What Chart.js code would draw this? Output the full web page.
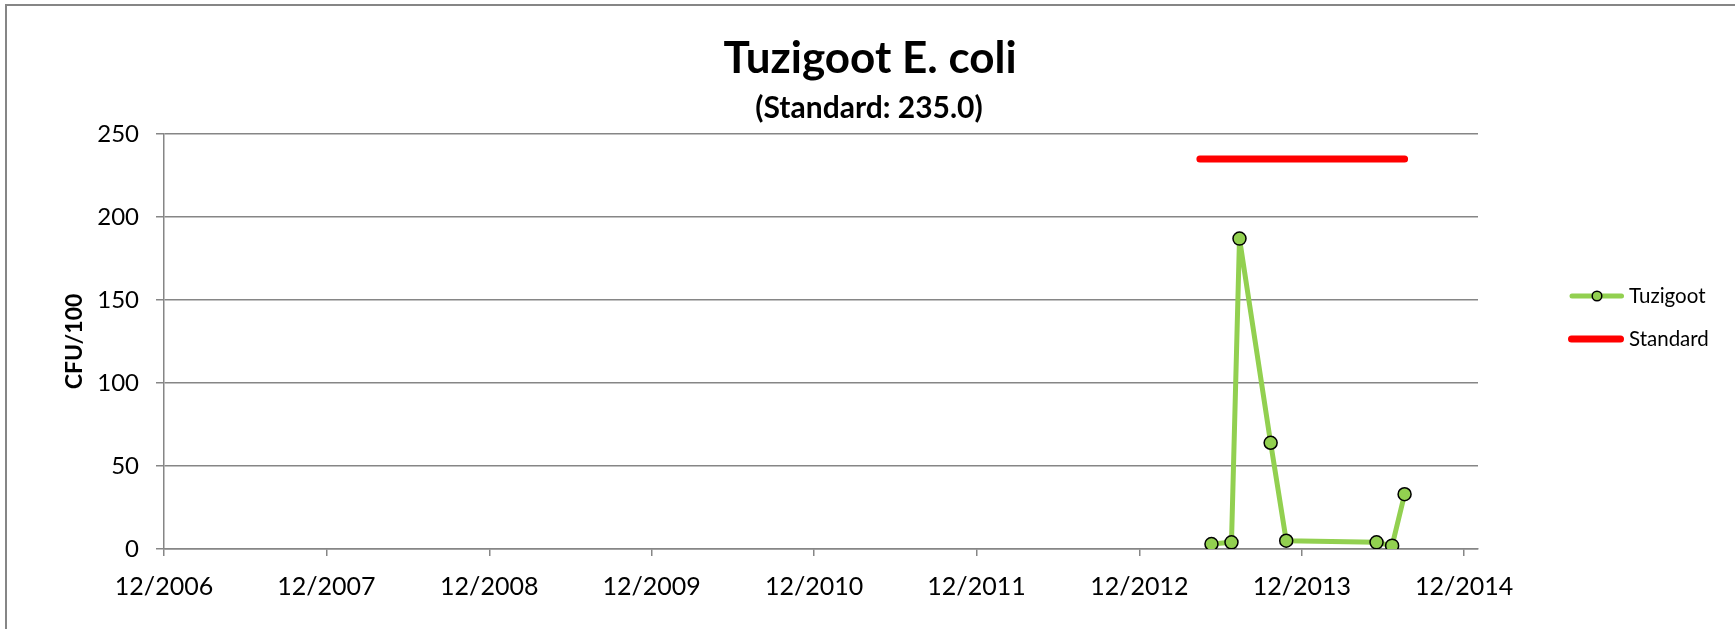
<!DOCTYPE html>
<html><head><meta charset="utf-8">
<script src="https://cdn.jsdelivr.net/npm/chart.js@4.4.1/dist/chart.umd.min.js"></script>
<style>html,body{margin:0;padding:0;background:#fff;overflow:hidden}#wrap{position:relative;width:1735px;height:629px}canvas{display:block}</style>
</head><body><div id="wrap"><canvas id="c" width="1735" height="629"></canvas></div>
<script>
const titleText = 'Tuzigoot E. coli';
const subtitleText = '(Standard: 235.0)';
const yAxisTitle = 'CFU/100';
const sampleDates = ['2013-05-12','2013-06-26','2013-07-14','2013-09-22','2013-10-27','2014-05-18','2014-06-22','2014-07-20'];
const tuzigootValues = [3, 4, 187, 64, 5, 4, 2, 33];
const standardDates = ['2013-04-16','2014-07-20'];
const standardValues = [235, 235];
const xTickDates = ['2006-12-01','2007-12-01','2008-12-01','2009-12-01','2010-12-01','2011-12-01','2012-12-01','2013-12-01','2014-12-01'];
const xTickLabels = ['12/2006','12/2007','12/2008','12/2009','12/2010','12/2011','12/2012','12/2013','12/2014'];
const yTicks = [0, 50, 100, 150, 200, 250];
const xMinDate = '2006-12-01';
const xMaxDate = '2015-01-01';
const seriesNames = ['Tuzigoot', 'Standard'];

const FONT = 'Lato, Carlito, Calibri, "Open Sans", sans-serif';
const GREEN = '#92D050', RED = '#FF0000', GRID = '#868686';

function dayNum(s){ const p = s.split('-').map(Number); return Date.UTC(p[0], p[1]-1, p[2]) / 86400000; }
function toPoints(dates, vals){ return dates.map((d,i)=>({x: dayNum(d), y: vals[i]})); }

const decor = {
  id: 'decor',
  afterDraw(chart){
    const ctx = chart.ctx;
    ctx.save();
    // outer frame (left and top edges visible)
    ctx.strokeStyle = '#868686'; ctx.lineWidth = 2;
    ctx.beginPath(); ctx.moveTo(6, 629); ctx.lineTo(6, 5); ctx.lineTo(1735, 5); ctx.stroke();
    // title and subtitle
    ctx.fillStyle = '#000'; ctx.textAlign = 'center'; ctx.textBaseline = 'alphabetic';
    ctx.font = 'bold 44px ' + FONT;
    ctx.fillText(titleText, 870, 73);
    ctx.font = 'bold 30px ' + FONT;
    ctx.fillText(subtitleText, 869, 118);
    // legend
    const ds = chart.data.datasets;
    ctx.lineCap = 'round';
    ctx.strokeStyle = ds[0].borderColor; ctx.lineWidth = 5;
    ctx.beginPath(); ctx.moveTo(1572, 296); ctx.lineTo(1621.5, 296); ctx.stroke();
    ctx.fillStyle = ds[0].pointBackgroundColor; ctx.strokeStyle = '#000'; ctx.lineWidth = 1.5;
    ctx.beginPath(); ctx.arc(1597, 296, 4.8, 0, Math.PI*2); ctx.fill(); ctx.stroke();
    ctx.strokeStyle = ds[1].borderColor; ctx.lineWidth = 7;
    ctx.beginPath(); ctx.moveTo(1571.5, 339); ctx.lineTo(1620.5, 339); ctx.stroke();
    ctx.fillStyle = '#000'; ctx.textAlign = 'left'; ctx.textBaseline = 'middle';
    ctx.font = '20.5px ' + FONT;
    ctx.fillText(ds[0].label, 1629, 296);
    ctx.fillText(ds[1].label, 1629, 339);
    ctx.restore();
  }
};

new Chart(document.getElementById('c'), {
  type: 'line',
  data: {
    datasets: [
      { label: seriesNames[0], data: toPoints(sampleDates, tuzigootValues),
        borderColor: GREEN, backgroundColor: GREEN, borderWidth: 5,
        pointRadius: 6.5, pointBorderWidth: 1.5, pointBorderColor: '#000', pointBackgroundColor: GREEN,
        tension: 0, borderJoinStyle: 'round', borderCapStyle: 'round', order: 1 },
      { label: seriesNames[1], data: toPoints(standardDates, standardValues),
        borderColor: RED, backgroundColor: RED, borderWidth: 7, pointRadius: 0,
        borderCapStyle: 'round', tension: 0, order: 2 }
    ]
  },
  options: {
    responsive: false, animation: false, devicePixelRatio: 1,
    layout: { padding: { top: 134, right: 257, bottom: 0, left: 0 } },
    plugins: { legend: { display: false }, title: { display: false }, tooltip: { enabled: false } },
    scales: {
      x: {
        type: 'linear', min: dayNum(xMinDate), max: dayNum(xMaxDate),
        afterBuildTicks: s => { s.ticks = xTickDates.map(d => ({ value: dayNum(d) })); },
        afterFit: s => { s.height = 80; },
        ticks: { callback: (v, i) => xTickLabels[i], color: '#000', font: { family: FONT, size: 25 },
                 maxRotation: 0, autoSkip: false, padding: 16 },
        grid: { drawOnChartArea: false, drawTicks: true, tickLength: 7, color: GRID, lineWidth: 1.5 },
        border: { color: GRID, width: 1.5 }
      },
      y: {
        min: 0, max: 250,
        afterBuildTicks: s => { s.ticks = yTicks.map(v => ({ value: v })); },
        afterFit: s => { s.width = 164; },
        ticks: { color: '#000', font: { family: FONT, size: 24 }, padding: 17 },
        grid: { color: GRID, lineWidth: 1.5, tickLength: 8 },
        border: { color: GRID, width: 1.5 },
        title: { display: true, text: yAxisTitle, color: '#000', font: { family: FONT, size: 23, weight: 'bold' }, padding: { top: 61, bottom: 0 } }
      }
    }
  },
  plugins: [decor]
});
</script>
</body></html>
